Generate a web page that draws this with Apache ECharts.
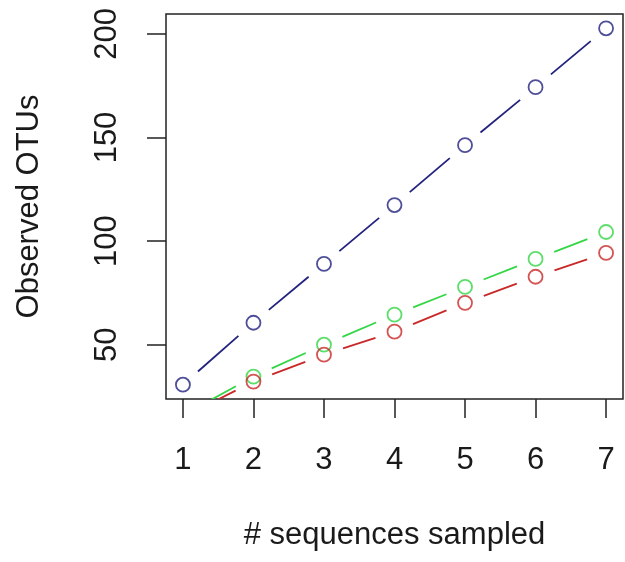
<!DOCTYPE html>
<html>
<head>
<meta charset="utf-8">
<script src="https://cdn.jsdelivr.net/npm/echarts@6/dist/echarts.min.js"></script>
<style>
html,body{margin:0;padding:0;background:#fff;}
#chart{width:625px;height:562px;}
</style>
</head>
<body>
<div id="chart"></div>
<script>
// Data
const xs = [1, 2, 3, 4, 5, 6, 7];
const blueVals = [30.7, 60.6, 89.0, 117.4, 146.3, 174.3, 202.7];
const greenVals = [16, 34.6, 50.0, 64.5, 77.9, 91.4, 104.4];
const redVals = [15, 32.2, 45.2, 56.3, 70.2, 82.8, 94.3];
const xTicks = [1, 2, 3, 4, 5, 6, 7];
const yTicks = [50, 100, 150, 200];
const xLimits = [0.76, 7.24];
const yLimits = [23.8, 209.6];

const COLORS = { blue: '#22227f', green: '#34d646', red: '#c92828' };
const FONT = '"Liberation Sans", Arial, sans-serif';
const TXT = '#1a1a1a';

function pairs(ys) {
  const out = [];
  for (let i = 0; i < xs.length - 1; i++) out.push([xs[i], ys[i], xs[i + 1], ys[i + 1]]);
  return out;
}
function segSeries(name, ys, color) {
  return {
    type: 'custom', name: name, clip: true, z: 2, silent: true,
    encode: { x: [0, 2], y: [1, 3] },
    data: pairs(ys),
    renderItem: function (params, api) {
      const p1 = api.coord([api.value(0), api.value(1)]);
      const p2 = api.coord([api.value(2), api.value(3)]);
      const dx = p2[0] - p1[0], dy = p2[1] - p1[1];
      const len = Math.hypot(dx, dy);
      const g = 20;
      if (len <= 2 * g) return null;
      const ux = dx / len, uy = dy / len;
      return {
        type: 'line',
        shape: { x1: p1[0] + ux * g, y1: p1[1] + uy * g, x2: p2[0] - ux * g, y2: p2[1] - uy * g },
        style: { stroke: color, lineWidth: 1.8 }
      };
    }
  };
}
function ptSeries(name, ys, color) {
  return {
    type: 'scatter', name: name, clip: true, z: 3, silent: true,
    symbol: 'circle', symbolSize: 14,
    itemStyle: { color: 'rgba(0,0,0,0)', borderColor: color, borderWidth: 1.8 },
    data: xs.map((x, i) => [x, ys[i]])
  };
}

const chart = echarts.init(document.getElementById('chart'), null, { renderer: 'canvas' });
chart.setOption({
  animation: false,
  backgroundColor: '#fff',
  grid: { left: 166, right: 2, top: 14, bottom: 163, show: true, borderColor: '#222', borderWidth: 1.5, backgroundColor: 'transparent' },
  xAxis: {
    type: 'value', min: xLimits[0], max: xLimits[1],
    name: '# sequences sampled', nameLocation: 'middle', nameGap: 121,
    nameTextStyle: { fontSize: 31, color: TXT, fontFamily: FONT },
    axisLine: { show: false },
    splitLine: { show: false },
    axisTick: { show: true, customValues: xTicks, length: 19, lineStyle: { color: '#222', width: 1.5 } },
    axisLabel: { customValues: xTicks, fontSize: 31, color: TXT, fontFamily: FONT, margin: 46 }
  },
  yAxis: {
    type: 'value', min: yLimits[0], max: yLimits[1],
    name: 'Observed OTUs', nameLocation: 'middle', nameGap: 121, nameRotate: 90,
    nameTextStyle: { fontSize: 31, color: TXT, fontFamily: FONT },
    axisLine: { show: false },
    splitLine: { show: false },
    axisTick: { show: true, customValues: yTicks, length: 19, lineStyle: { color: '#222', width: 1.5 } },
    axisLabel: { customValues: yTicks, fontSize: 31, color: TXT, fontFamily: FONT, rotate: 90, margin: 43 }
  },
  series: [
    segSeries('blue-line', blueVals, COLORS.blue),
    segSeries('green-line', greenVals, COLORS.green),
    segSeries('red-line', redVals, COLORS.red),
    ptSeries('blue', blueVals, COLORS.blue),
    ptSeries('green', greenVals, COLORS.green),
    ptSeries('red', redVals, COLORS.red)
  ]
});
</script>
</body>
</html>
